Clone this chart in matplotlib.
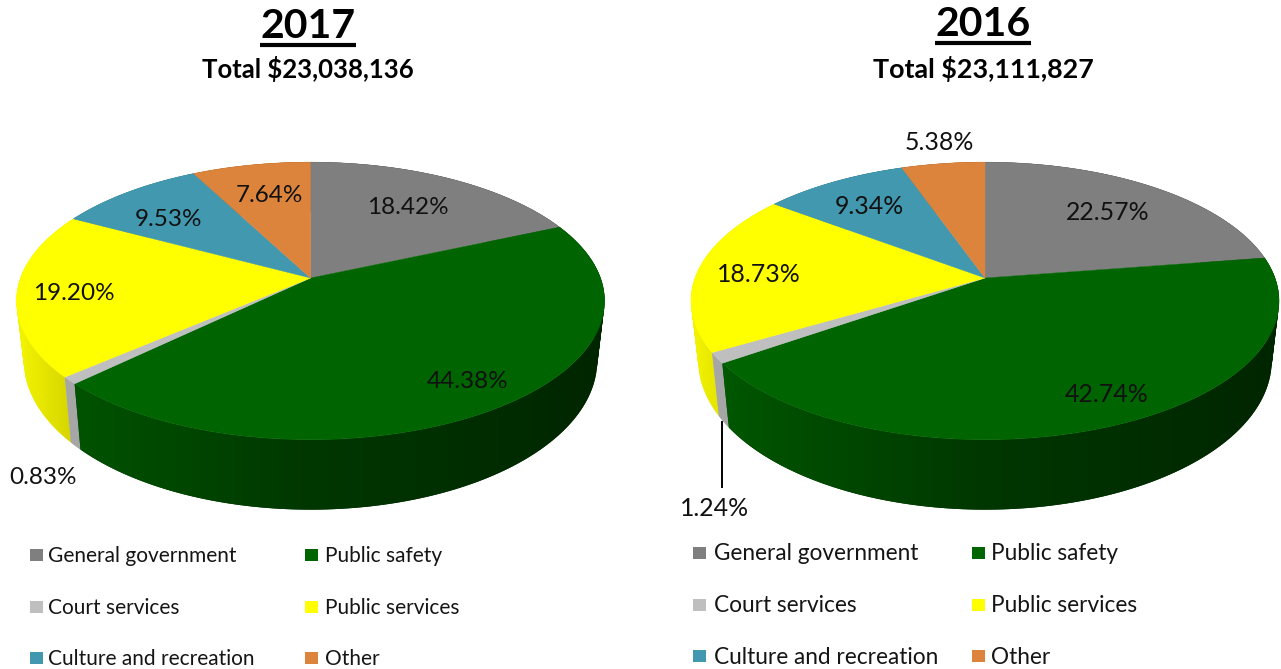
import numpy as np
import matplotlib
matplotlib.use("Agg")
import matplotlib.pyplot as plt
from matplotlib.colors import to_rgb
from matplotlib.patches import PathPatch, Polygon, Rectangle
from matplotlib.path import Path

categories = ["General government", "Public safety", "Court services",
              "Public services", "Culture and recreation", "Other"]
values_2017 = [18.42, 44.38, 0.83, 19.20, 9.53, 7.64]
values_2016 = [22.57, 42.74, 1.24, 18.73, 9.34, 5.38]
colors = ["#7f7f7f", "#006400", "#bfbfbf", "#ffff00", "#4198af", "#dd843c"]
label_pos_2017 = [(408, 208), (468, 382), (43, 478), (74, 293), (169, 219), (269, 196)]
label_pos_2016 = [(1108, 213), (1107, 394), (714, 508), (759, 275), (869, 207), (939, 143)]

plt.rcParams["font.family"] = ["Lato", "DejaVu Sans"]
W, H = 1281, 669
fig = plt.figure(figsize=(W / 100, H / 100), dpi=100)
ax = fig.add_axes([0, 0, 1, 1])
ax.axis("off")

A, B, K = 290.0, 135.0, 0.165      # perspective of the pie disc


def top_rim(theta, cx, cy):
    """theta: clockwise from 12 o'clock (radians); returns pixel x, y."""
    X, Y = np.sin(theta), np.cos(theta)
    d = 1 + K * Y
    return cx + A * X / d, cy - B * Y / d


def bottom_rim(theta, cx, cy):
    x, y = top_rim(theta, cx, cy)
    return cx + 0.975 * (x - cx), cy + 1.074 * (y - cy) + 58


def shade(u):
    return np.interp(u, [-1, -0.8, 0, 1], [0.95, 0.82, 0.55, 0.38])


def wall_path(v0, v1, cx, cy):
    t = np.linspace(v0, v1, max(3, int((v1 - v0) / 0.01)))
    xt, yt = top_rim(t, cx, cy)
    xb, yb = bottom_rim(t, cx, cy)
    quads = []
    for i in range(len(t) - 1):
        q = np.array([(xt[i], yt[i]), (xt[i + 1], yt[i + 1]),
                      (xb[i + 1], yb[i + 1]), (xb[i], yb[i]), (xt[i], yt[i])])
        area = np.sum(q[:-1, 0] * q[1:, 1] - q[1:, 0] * q[:-1, 1])
        quads.append(Path(q if area >= 0 else q[::-1], closed=True))
    return Path.make_compound_path(*quads)


def draw_pie(values, cx, cy, labels_at, size):
    edges = np.cumsum([0] + list(values)) / sum(values) * 2 * np.pi
    slices = list(zip(edges[:-1], edges[1:], colors))
    slices.sort(key=lambda s: -np.cos((s[0] + s[1]) / 2))
    px = np.arange(cx - 300, cx + 301)
    for v0, v1, c in slices:
        path = wall_path(v0, v1, cx, cy)
        base = np.array(to_rgb(c))
        grey = c == "#bfbfbf"
        mid = base * (0.87 if grey else shade(np.sin((v0 + v1) / 2)))
        wall = PathPatch(path, facecolor=mid, edgecolor="none")
        ax.add_patch(wall)
        f = np.full(px.size, 0.87) if grey else shade((px - cx) / A)
        img = (f[:, None] * base)[None, :, :]
        im = ax.imshow(img, extent=(px[0], px[-1], 520, 150), aspect="auto",
                       interpolation="bilinear", zorder=wall.get_zorder())
        im.set_clip_path(path, transform=ax.transData)
    for v0, v1, c in zip(edges[:-1], edges[1:], colors):
        t = np.linspace(v0, v1, max(3, int((v1 - v0) / 0.01)))
        x, y = top_rim(t, cx, cy)
        pts = np.column_stack([np.r_[cx, x], np.r_[cy, y]])
        ax.add_patch(Polygon(pts, closed=True, facecolor=c, edgecolor=c, linewidth=0.3, zorder=3))
    for v, (lx, ly) in zip(values, labels_at):
        ax.text(lx, ly, f"{v:.2f}%", ha="center", va="center", fontsize=size,
                color="#111111", zorder=5)


def draw_header(year, total, x, y1, y2, ul_y, size):
    ax.text(x, y1, year, ha="center", va="center", fontsize=29.5, fontweight="bold", color="black")
    ax.plot([x - 48, x + 48], [ul_y, ul_y], color="black", lw=3, solid_capstyle="butt")
    ax.text(x, y2, total, ha="center", va="center", fontsize=size, fontweight="bold", color="black")


def draw_legend(x1, x2, off1, off2, rows, size):
    xs = [x1, x2] * 3
    offs = [off1, off2] * 3
    ys = [rows[0], rows[0], rows[1], rows[1], rows[2], rows[2]]
    for name, c, x, o, y in zip(categories, colors, xs, offs, ys):
        ax.add_patch(Rectangle((x, y - 6), 13, 12, facecolor=c, edgecolor="none"))
        ax.text(x + o, y + 1, name, ha="left", va="center", fontsize=size, color="#151515")


draw_header("2017", "Total $23,038,136", 308, 26, 69, 44.5, 18.5)
draw_header("2016", "Total $23,111,827", 983, 25, 69, 43, 19.4)
draw_pie(values_2017, 310.5, 278, label_pos_2017, 17.5)
draw_pie(values_2016, 985, 278, label_pos_2016, 17.9)
ax.plot([722, 722], [422, 487], color="black", lw=1.4, zorder=4)
draw_legend(30, 305, 18, 20, [555, 607, 658], 15.0)
draw_legend(693, 972, 21, 19, [553, 605, 656], 16.3)

ax.set_xlim(0, W)
ax.set_ylim(H, 0)
fig.savefig("out.png", dpi=100, facecolor="white")
